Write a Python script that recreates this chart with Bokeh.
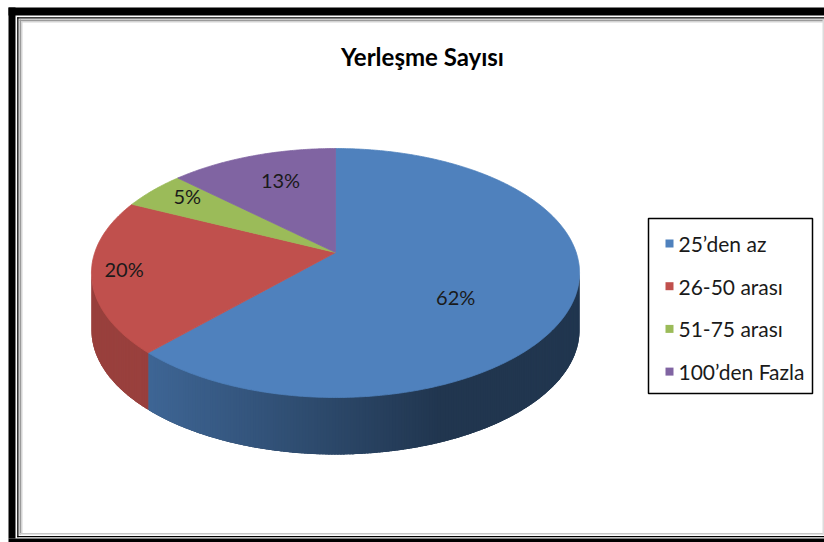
import numpy as np
from bokeh.plotting import figure
from bokeh.models import Range1d, ColumnDataSource
from bokeh.core.properties import value
from bokeh.embed import file_html
from bokeh.resources import INLINE

# ---------------- data ----------------
title = "Yerleşme Sayısı"
categories = ["25’den az", "26-50 arası", "51-75 arası", "100’den Fazla"]
percents = [62, 20, 5, 13]
colors = ["#4F81BD", "#C0504D", "#9BBB59", "#8064A2"]
label_texts = [f"{v}%" for v in percents]

# ---------------- layout / style ----------------
W, H = 824, 542
FONT = "Lato"
p = figure(width=W, height=H, x_range=Range1d(0, W), y_range=Range1d(H, 0),
           output_backend="svg", toolbar_location=None, x_axis_type=None, y_axis_type=None,
           min_border=0, min_border_left=0, min_border_right=0, min_border_top=0, min_border_bottom=0)
p.grid.visible = False
p.outline_line_color = None
p.background_fill_color = "white"
p.border_fill_color = "white"

# frame decoration
p.quad(left=[8, 8, 8], right=[15, W, W], bottom=[538, 15, 542], top=[7, 7, 538], color="black", line_width=0)
p.quad(left=[16.7, 16.7, 16.7], right=[18, W, W], bottom=[536.8, 18, 536.8], top=[16.7, 16.7, 535.5],
       color="black", line_width=0)
p.quad(left=[19, 19], right=[20.5, W], bottom=[534, 20.5], top=[19, 19], color="#9a9a9a", line_width=0)
p.quad(left=[20.5, 20.5], right=[22, W], bottom=[532.5, 22], top=[20.5, 20.5], color="#d4d4d4", line_width=0)
p.quad(left=[19], right=[W], bottom=[534], top=[532.5], color="#c8c8c8", line_width=0)
p.quad(left=[822], right=[823.5], bottom=[534], top=[19], color="#dcdcdc", line_width=0)

# title
p.text(x=[422], y=[56], text=[title], text_font=value(FONT), text_font_style="bold",
       text_font_size="24px", text_align="center", text_baseline="middle", text_color="black")

# ---------------- 3D pie (perspective projection) ----------------
cx, cy = 335.0, 252.0
A, B, K = 240.7, 121.1, 0.1647
DEPTH = 57.0


def proj(theta_deg, r=1.0):
    t = np.radians(theta_deg)
    u = r * np.sin(t)
    v = -r * np.cos(t)
    w = 1 - K * v
    return cx + A * u / w, cy + B * v / w


def hex_to_rgb(h):
    h = h.lstrip("#")
    return tuple(int(h[i:i + 2], 16) for i in (0, 2, 4))


def shade(hexcol, f):
    r, g, b = hex_to_rgb(hexcol)
    return "#%02x%02x%02x" % (int(r * f), int(g * f), int(b * f))


def shade_at(x):
    return 0.80 - (0.80 - 0.42) * np.clip((x - 140) / (440 - 140), 0, 1)


total = float(sum(percents))
bounds = np.concatenate([[0.0], np.cumsum(percents) / total * 360.0])

# side wall
th_a = np.degrees(np.arccos(-K))
th_b = 360.0 - th_a
bx, by, bc = [], [], []
sx, sy, sc = [], [], []
for i, col in enumerate(colors):
    s0, s1 = max(bounds[i], th_a), min(bounds[i + 1], th_b)
    if s1 <= s0:
        continue
    ts_full = np.linspace(s0, s1, 200)
    xs_f, ys_f = proj(ts_full)
    bx.append(list(xs_f) + list(xs_f[::-1]))
    by.append(list(ys_f) + list(ys_f[::-1] + DEPTH))
    bc.append(shade(col, shade_at(float(np.mean(xs_f)))))
    n = max(2, int((s1 - s0) / 0.6))
    ts = np.linspace(s0, s1, n + 1)
    step = ts[1] - ts[0]
    for t0, t1 in zip(ts[:-1], ts[1:]):
        t1e = min(t1 + step * 0.6, s1)
        x0, y0 = proj(t0)
        x1, y1 = proj(t1e)
        xm = (x0 + x1) / 2
        sx.append([x0, x1, x1, x0])
        sy.append([y0 - 1, y1 - 1, y1 + DEPTH, y0 + DEPTH])
        sc.append(shade(col, shade_at(xm)))
p.patches(xs="xs", ys="ys", fill_color="c", line_color=None,
          source=ColumnDataSource(dict(xs=bx, ys=by, c=bc)))
p.patches(xs="xs", ys="ys", fill_color="c", line_color=None,
          source=ColumnDataSource(dict(xs=sx, ys=sy, c=sc)))

# top faces
tx, ty = [], []
for i in range(len(percents)):
    ts = np.linspace(bounds[i], bounds[i + 1], max(3, int((bounds[i + 1] - bounds[i]) / 0.5)))
    xs, ys = proj(ts)
    tx.append([cx] + list(xs))
    ty.append([cy] + list(ys))
p.patches(xs="xs", ys="ys", fill_color="c", line_color="c", line_width=0.8,
          source=ColumnDataSource(dict(xs=tx, ys=ty, c=colors)))

# data labels
label_r = [0.52, 0.87, 0.80, 0.63]
label_dy = [21, -4, -6, -9]
lx, ly = [], []
for i in range(len(percents)):
    mid = (bounds[i] + bounds[i + 1]) / 2
    x, y = proj(mid, label_r[i])
    lx.append(x)
    ly.append(y + label_dy[i])
p.text(x=lx, y=ly, text=label_texts, text_font=value(FONT), text_font_size="20px",
       text_align="center", text_baseline="middle", text_color="#1a1a1a")

# ---------------- legend ----------------
p.quad(left=[648], right=[812], top=[218], bottom=[393], fill_color="white",
       line_color="black", line_width=1.5)
leg_y = [243 + 42.7 * i for i in range(len(categories))]
p.rect(x=[669] * len(categories), y=leg_y, width=8, height=8, fill_color=colors, line_color=None)
p.text(x=[678] * len(categories), y=leg_y, text=categories, text_font=value(FONT),
       text_font_size="21px", text_align="left", text_baseline="middle", text_color="#1a1a1a")

open("out.html", "w").write(file_html(p, INLINE))
